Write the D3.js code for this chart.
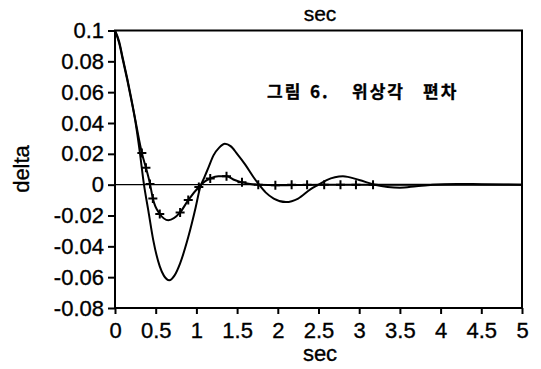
<!DOCTYPE html>
<html lang="ko">
<head>
    <meta charset="UTF-8">
    <title>delta</title>
    <script src="https://cdn.jsdelivr.net/npm/d3@7"></script>
    <style>
        body { margin: 0; background: #fff; }
        text { font-family: "Liberation Sans", Arial, sans-serif; fill: #000; stroke: #000; stroke-width: 0.35px; }
    </style>
</head>
<body>
<svg id="chart" width="541" height="369" xmlns="http://www.w3.org/2000/svg"></svg>
<script>
    // 실선 (solid curve): [sec, delta]
    const solidT = [0, 0.05, 0.1, 0.15, 0.2, 0.25, 0.3, 0.356, 0.41, 0.47, 0.55, 0.6, 0.667, 0.73, 0.8, 0.9, 0.99, 1.045,
        1.1, 1.15, 1.21, 1.28, 1.35, 1.42, 1.5, 1.6, 1.7, 1.77, 1.85, 1.95, 2.1, 2.25, 2.4, 2.5, 2.6, 2.8, 3.0, 3.19,
        3.35, 3.5, 3.7, 3.9, 4.2, 4.5, 5.0];
    const solidV = [0.1, 0.092, 0.08, 0.068, 0.055, 0.041, 0.023, 0, -0.017, -0.036, -0.053, -0.059, -0.062, -0.059, -0.051, -0.034, -0.015, -0.002,
        0.005, 0.0114, 0.019, 0.024, 0.0265, 0.025, 0.02, 0.013, 0.005, 0, -0.005, -0.009, -0.0113, -0.009, -0.003, 0, 0.003, 0.0055, 0.003, 0,
        -0.0015, -0.002, -0.001, 0, 0.0005, 0.0003, 0];

    // 마커선 (marked curve)
    const markT = [0, 0.05, 0.1, 0.15, 0.2, 0.25, 0.3, 0.33, 0.38, 0.43, 0.465, 0.55, 0.655, 0.8, 0.9, 1.03, 1.1, 1.17, 1.27, 1.37,
        1.47, 1.56, 1.66, 1.76, 2.0, 2.5, 3.0, 3.5, 4.0, 4.5, 5.0];
    const markV = [0.1, 0.093, 0.081, 0.069, 0.056, 0.042, 0.028, 0.0205, 0.011, 0.0005, -0.009, -0.019, -0.023, -0.018, -0.01, -0.0015, 0.002, 0.004, 0.0055, 0.0055,
        0.003, 0.0015, 0.0005, 0, -0.0003, 0, 0, 0, 0, 0, 0];

    // + 표시 위치
    const crossT = [0.33, 0.38, 0.43, 0.465, 0.55, 0.8, 0.9, 1.03, 1.17, 1.37, 1.56, 1.76, 1.97, 2.17, 2.36, 2.57, 2.77, 2.96, 3.17];
    const crossV = [0.0205, 0.011, 0.0005, -0.009, -0.019, -0.018, -0.01, -0.0015, 0.004, 0.0055, 0.0015, 0, -0.0003, 0, 0, 0, 0, 0, 0];

    const xTicks = [0, 0.5, 1, 1.5, 2, 2.5, 3, 3.5, 4, 4.5, 5];
    const yTicks = [-0.08, -0.06, -0.04, -0.02, 0, 0.02, 0.04, 0.06, 0.08, 0.1];

    const svg = d3.select("#chart");
    const x = d3.scaleLinear().domain([0, 5]).range([115, 522]);
    const y = d3.scaleLinear().domain([-0.08, 0.1]).range([308, 30.5]);

    // 0 기준선
    svg.append("line")
        .attr("x1", x(0)).attr("x2", x(5))
        .attr("y1", y(0)).attr("y2", y(0))
        .attr("stroke", "#000").attr("stroke-width", 1.2);

    const line = d3.line().x(d => x(d[0])).y(d => y(d[1])).curve(d3.curveMonotoneX);

    svg.append("path")
        .attr("d", line(d3.zip(solidT, solidV)))
        .attr("fill", "none").attr("stroke", "#000").attr("stroke-width", 2);

    svg.append("path")
        .attr("d", line(d3.zip(markT, markV)))
        .attr("fill", "none").attr("stroke", "#000").attr("stroke-width", 2);

    svg.append("g").selectAll("path")
        .data(d3.zip(crossT, crossV))
        .join("path")
        .attr("transform", d => `translate(${x(d[0])},${y(d[1])})`)
        .attr("d", "M-4.5,0H4.5M0,-4.5V4.5")
        .attr("stroke", "#000").attr("stroke-width", 2);

    // 테두리
    svg.append("rect")
        .attr("x", x(0)).attr("y", y(0.1))
        .attr("width", x(5) - x(0)).attr("height", y(-0.08) - y(0.1))
        .attr("fill", "none").attr("stroke", "#000").attr("stroke-width", 2);

    const fmt = d => (d === 0 ? "0" : d3.format("~g")(d)).replace("\u2212", "-");

    const xAxis = svg.append("g")
        .attr("transform", `translate(0,${y(-0.08)})`)
        .call(d3.axisBottom(x).tickValues(xTicks).tickFormat(fmt).tickSize(6).tickSizeOuter(0).tickPadding(8));
    const yAxis = svg.append("g")
        .attr("transform", `translate(${x(0)},0)`)
        .call(d3.axisLeft(y).tickValues(yTicks).tickFormat(fmt).tickSize(7).tickSizeOuter(0).tickPadding(4));

    [xAxis, yAxis].forEach(g => {
        g.select(".domain").remove();
        g.selectAll(".tick line").attr("stroke", "#000").attr("stroke-width", 2);
        g.selectAll(".tick text").attr("font-size", 22).attr("fill", "#000")
            .style("font-family", "'Liberation Sans', Arial, sans-serif");
    });

    // 축 제목
    svg.append("text").attr("x", 320).attr("y", 361).attr("text-anchor", "middle")
        .attr("font-size", 22).text("sec");
    svg.append("text").attr("x", 320).attr("y", 21).attr("text-anchor", "middle")
        .attr("font-size", 21).text("sec");
    svg.append("text").attr("transform", "translate(29,169) rotate(-90)").attr("text-anchor", "middle")
        .attr("font-size", 22).text("delta");

    // 그림 제목
    const note = [["그림", 267], ["6.", 310], ["위상각", 352], ["편차", 423]];
    svg.append("g").selectAll("text")
        .data(note)
        .join("text")
        .attr("x", d => d[1]).attr("y", 98)
        .attr("font-size", 17).attr("font-weight", "bold")
        .attr("letter-spacing", 2)
        .style("font-family", "'Noto Sans CJK KR', sans-serif")
        .text(d => d[0]);
</script>
</body>
</html>
